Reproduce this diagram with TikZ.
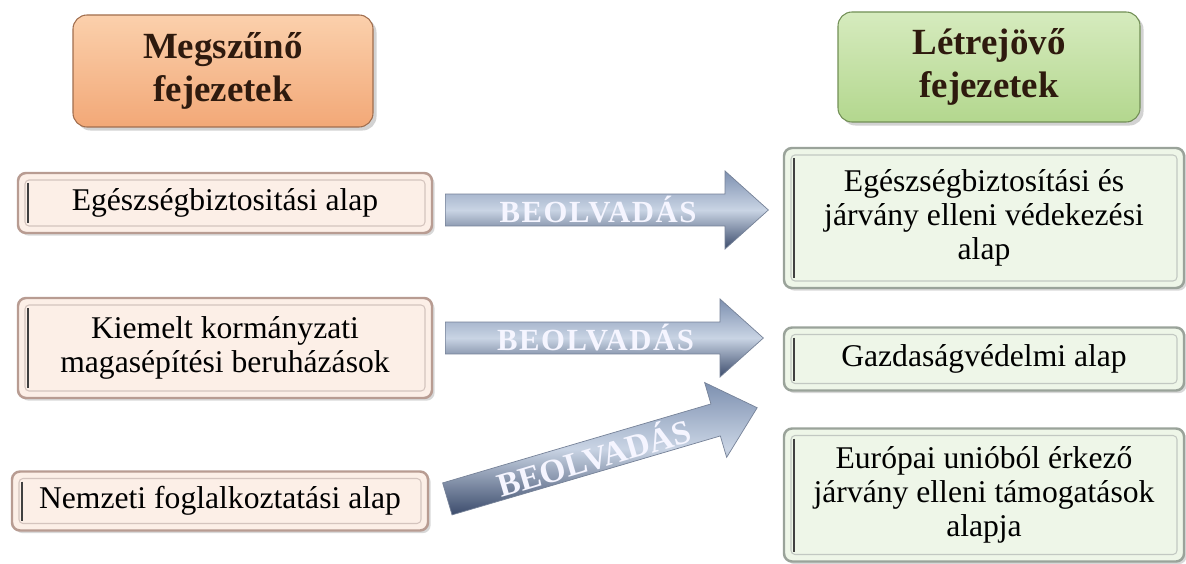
\documentclass[tikz,border=0pt]{standalone}
\usepackage{fontspec}
\setmainfont{Liberation Serif}
\newfontfamily\arrowfont[LetterSpace=5]{Liberation Serif}
\newfontfamily\arrowfontplain{Liberation Serif}
\usetikzlibrary{shapes.arrows,shadows}
\newdimen\pxu \pxu=0.02cm
\definecolor{orA}{HTML}{FBD0AC}
\definecolor{orB}{HTML}{F2A877}
\definecolor{orD}{HTML}{C98A62}
\definecolor{grA}{HTML}{D6EBBE}
\definecolor{grB}{HTML}{B3D78E}
\definecolor{grD}{HTML}{8FB36C}
\definecolor{lfill}{HTML}{FCEFE7}
\definecolor{ldraw}{HTML}{B89C92}
\definecolor{rfill}{HTML}{EEF6E8}
\definecolor{rdraw}{HTML}{9AA39A}
\definecolor{arA}{HTML}{7D90B0}
\definecolor{arM}{HTML}{C9D4E4}
\definecolor{arB}{HTML}{3C4C6C}
\definecolor{hdtext}{HTML}{2E1A0E}
\tikzset{
  header/.style={rounded corners=14\pxu, draw=#1!80!black, line width=0.6pt,
    font=\fontsize{21}{24.5}\selectfont\bfseries, text=hdtext, align=center,
    drop shadow={shadow xshift=2pt, shadow yshift=-2pt, opacity=0.35}},
  itembox/.style 2 args={rounded corners=8\pxu, draw=#2, line width=1.4pt, fill=#1,
    font=\fontsize{18}{19.2}\selectfont, align=center, inner sep=0pt,
    drop shadow={shadow xshift=1.5pt, shadow yshift=-1.5pt, opacity=0.3},
    path picture={
      \draw[#2!60, line width=0.6pt, rounded corners=4\pxu]
        ([shift={(7\pxu,-7\pxu)}]path picture bounding box.north west) rectangle
        ([shift={(-7\pxu,7\pxu)}]path picture bounding box.south east);
      \draw[black!75, line width=1.3pt]
        ([shift={(10\pxu,-10\pxu)}]path picture bounding box.north west) --
        ([shift={(10\pxu,10\pxu)}]path picture bounding box.south west);
    }},
  leftbox/.style={itembox={lfill}{ldraw}},
  rightbox/.style={itembox={rfill}{rdraw}},
  fatarrow/.style={single arrow, shape border rotate=0, anchor=tail,
    minimum height=323\pxu, minimum width=78\pxu, single arrow head extend=20\pxu,
    single arrow tip angle=84, inner sep=0pt,
    top color=arA, bottom color=arB, middle color=arM,
    draw=arB!70, line width=0.4pt,
    font=\arrowfont\fontsize{17.5}{17.5}\selectfont\bfseries, text=white!96!blue}
}
\begin{document}
\begin{tikzpicture}[x=0.02cm, y=-0.02cm]
\useasboundingbox[fill=white] (0,0) rectangle (1186,564);

% headers
\node[header=orD, top color=orA, bottom color=orB, minimum width=300\pxu, minimum height=112\pxu]
  (hleft) at (223,71) {Megszűnő\\fejezetek};
\node[header=grD, top color=grA, bottom color=grB, minimum width=302\pxu, minimum height=110\pxu]
  (hright) at (989,67) {Létrejövő\\fejezetek};

% left boxes
\node[leftbox, minimum width=414\pxu, minimum height=60\pxu] (l1) at (225,203)
  {Egészségbiztositási alap};
\node[leftbox, minimum width=414\pxu, minimum height=100\pxu] (l2) at (225,348)
  {Kiemelt kormányzati\\magasépítési beruházások};
\node[leftbox, minimum width=416\pxu, minimum height=59\pxu] (l3) at (220,501)
  {Nemzeti foglalkoztatási alap};

% right boxes
\node[rightbox, minimum width=400\pxu, minimum height=140\pxu] (r1) at (984,218)
  {Egészségbiztosítási és\\járvány elleni védekezési\\alap};
\node[rightbox, minimum width=400\pxu, minimum height=63\pxu] (r2) at (984,359)
  {Gazdaságvédelmi alap};
\node[rightbox, minimum width=400\pxu, minimum height=133\pxu] (r3) at (984,495)
  {Európai unióból érkező\\járvány elleni támogatások\\alapja};

% arrows
\coordinate (a1) at (445,210);
\coordinate (a2) at (445,338);
\coordinate (a3) at (447,499);
\node[fatarrow] (arr1) at (a1) {BEOLVADÁS};
\node[fatarrow, minimum height=318\pxu] (arr2) at (a2) {BEOLVADÁS};
\node[fatarrow, rotate=16.4, font=\arrowfontplain\fontsize{19}{19}\selectfont\bfseries] (arr3) at (a3) {BEOLVADÁS};
\end{tikzpicture}
\end{document}
